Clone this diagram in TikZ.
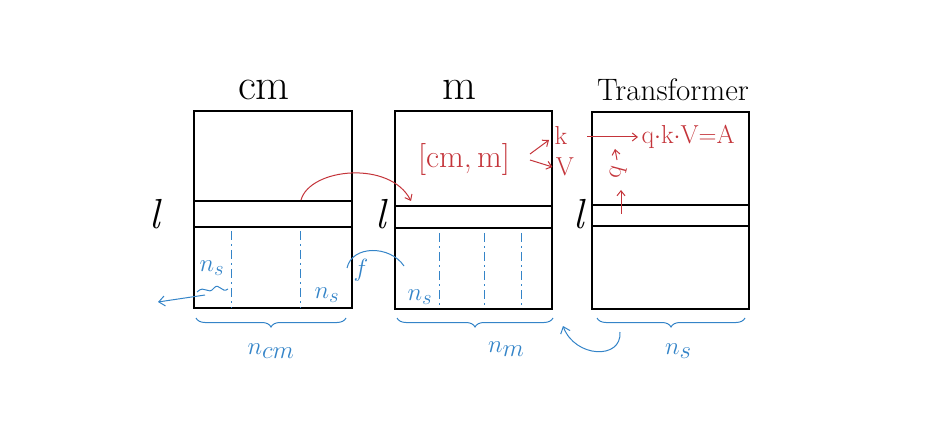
\documentclass[tikz,border=0pt]{standalone}
\usetikzlibrary{decorations.pathreplacing,arrows.meta}
\definecolor{inkred}{RGB}{196,52,58}
\definecolor{inkblue}{RGB}{52,132,200}
\tikzset{
  box/.style={draw=black,line width=1.1pt},
  sep/.style={draw=black,line width=1.1pt},
  dsh/.style={draw=inkblue,line width=0.9pt,dash pattern=on 9pt off 4pt on 2pt off 4pt},
  rarr/.style={draw=inkred,line width=1pt,-{Straight Barb[length=5pt,width=8pt]}},
  barr/.style={draw=inkblue,line width=1pt,-{Straight Barb[length=6pt,width=10pt]}},
  bline/.style={draw=inkblue,line width=1pt},
  brc/.style={draw=inkblue,line width=1pt,decorate,decoration={brace,amplitude=9pt}},
  ttl/.style={font=\fontsize{44}{46}\selectfont,text=black},
  ttl2/.style={font=\fontsize{31}{33}\selectfont,text=black},
  ll/.style={font=\fontsize{42}{44}\selectfont\itshape,text=black},
  rt/.style={font=\fontsize{32}{34}\selectfont,text=inkred},
  rt2/.style={font=\fontsize{26}{28}\selectfont,text=inkred},
  bt/.style={font=\fontsize{30}{32}\selectfont,text=inkblue},
  bt2/.style={font=\fontsize{42}{44}\selectfont,text=inkblue},
}
\begin{document}
\begin{tikzpicture}[x=1pt,y=-1pt]
\useasboundingbox (0,0) rectangle (939,430);
% boxes
\draw[box] (194,111) rectangle (352,308);
\draw[sep] (194,201) -- (352,201) (194,227) -- (352,227);
\draw[box] (395,111) rectangle (552,309);
\draw[sep] (395,206) -- (552,206) (395,228) -- (552,228);
\draw[box] (592,112) rectangle (749,309);
\draw[sep] (592,205) -- (749,205) (592,226) -- (749,226);
% titles
\node[ttl] (tcm) at (264,90) {cm};
\node[ttl] (tm) at (459,90) {m};
\node[ttl2] (ttr) at (673,90) {Transformer};
% l labels
\node[ll] (l1) at (155,214) {l};
\node[ll] (l2) at (381,214) {l};
\node[ll] (l3) at (579,214) {l};
% dashed columns
\draw[dsh] (231,231) -- (231,308);
\draw[dsh] (300,231) -- (300,308);
\draw[dsh] (439,233) -- (439,308);
\draw[dsh] (484,233) -- (484,308);
\draw[dsh] (521,233) -- (521,308);
% blue labels in boxes
\node[bt] (ns1) at (212,268) {$n_s$};
\node[bt] (ns2) at (327,295) {$n_s$};
\node[bt] (ns3) at (420,297) {$n_s$};
% tilde and left arrow
\draw[bline] (197,292) .. controls (205,284) and (208,296) .. (214,288) .. controls (219,282) and (222,294) .. (228,289);
\coordinate (la) at (158,302);
\draw[barr] (205,295) -- (la);
% f curve
\node[bt] (f) at (361,270) {$f$};
\coordinate (fs) at (404,266);
\coordinate (fe) at (347,268);
\draw[bline] (fs) .. controls (390,245) and (352,245) .. (fe);
% braces
\draw[brc] (346,318) -- (196,318) node[midway,below=22pt,bt2] (ncm) {$n_{cm}$};
\draw[brc] (553,318) -- (397,318) node[pos=0.3,below=20pt,bt2] (nm) {$n_m$};
\draw[brc] (745,318) -- (597,318) node[pos=0.45,below=22pt,bt2] (ns4) {$n_s$};
% bottom curved arrow
\coordinate (cs) at (620,332);
\coordinate (ce) at (563,326);
\draw[barr] (cs) .. controls (622,360) and (575,358) .. (ce);
% red curve
\coordinate (rs) at (301,200);
\coordinate (re) at (411,201);
\draw[rarr] (rs) .. controls (310,168) and (390,160) .. (re);
% red text
\node[rt] (cmm) at (464,160) {[cm,\,m]};
\node[rt2] (k) at (561,135) {k};
\node[rt2] (v) at (565,167) {V};
\coordinate (ka) at (530,154);
\coordinate (kt) at (549,140);
\coordinate (va) at (530,160);
\draw[rarr] (ka) -- (kt);
\draw[rarr] (va) -- (v.west);
\node[rt2,anchor=west] (qkv) at (638,137) {q$\cdot$k$\cdot$V$=$A};
\coordinate (qa) at (587,137);
\draw[rarr] (qa) -- (qkv.west);
\node[rt2,rotate=75] (q) at (618,173) {q};
\coordinate (q1) at (621,214);
\coordinate (q2) at (621,190);
\coordinate (q3) at (617,160);
\coordinate (q4) at (615,149);
\draw[rarr] (q1) -- (q2);
\draw[rarr] (q3) -- (q4);
\end{tikzpicture}
\end{document}
